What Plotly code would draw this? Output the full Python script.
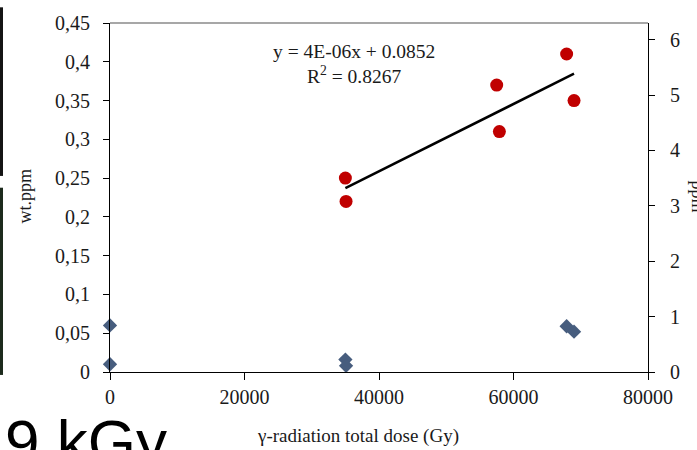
import numpy as np
import plotly.graph_objects as go

# Gamma dose (Gy) and concentrations (wt.ppm)
dose_red = [35000, 35100, 57500, 57900, 67900, 69000]
conc_red = [0.25, 0.22, 0.37, 0.31, 0.41, 0.35]

dose_blue = [0, 0, 35000, 35100, 67900, 69000]
conc_blue = [0.06, 0.01, 0.016, 0.008, 0.059, 0.052]

y_tick_vals = [0, 0.05, 0.1, 0.15, 0.2, 0.25, 0.3, 0.35, 0.4, 0.45]
y_tick_text = ["0", "0,05", "0,1", "0,15", "0,2", "0,25", "0,3", "0,35", "0,4", "0,45"]
x_tick_vals = [0, 20000, 40000, 60000, 80000]
y2_tick_vals = [0, 1, 2, 3, 4, 5, 6]

equation_text = "y = 4E-06x + 0.0852<br>R<sup>2</sup> = 0.8267"

# Linear trend through the red series
slope, intercept = np.polyfit(dose_red, conc_red, 1)
trend_x = np.array([min(dose_red), max(dose_red)])
trend_y = slope * trend_x + intercept

SERIF = "Liberation Serif"
TXT = "#1a1a1a"

# plot-area geometry in pixels, used to place free text
L, R, T, B = 110, 648, 16, 372
W, H = R - L, B - T


def px(x):
    return (x - L) / W


def py(y):
    return (B - y) / H


fig = go.Figure()
fig.add_trace(go.Scatter(
    x=dose_blue, y=conc_blue, mode="markers",
    marker=dict(symbol="diamond", size=11, color="#475d7e"),
    showlegend=False, cliponaxis=False,
))
fig.add_trace(go.Scatter(
    x=dose_red, y=conc_red, mode="markers",
    marker=dict(symbol="circle", size=13, color="#c00000"),
    showlegend=False,
))
fig.add_trace(go.Scatter(
    x=trend_x, y=trend_y, mode="lines",
    line=dict(color="black", width=2.5),
    showlegend=False,
))
# Invisible trace that keeps the secondary (ppm) axis active
fig.add_trace(go.Scatter(
    x=[None], y=[None], yaxis="y2", mode="markers", showlegend=False,
    hoverinfo="skip",
))

axis_font = dict(family=SERIF, size=20, color=TXT)

fig.update_layout(
    width=697, height=450,
    margin=dict(l=L, r=697 - R, t=T, b=450 - B),
    paper_bgcolor="white", plot_bgcolor="white",
    xaxis=dict(
        range=[0, 80000], tickvals=x_tick_vals,
        ticktext=[str(v) for v in x_tick_vals],
        showgrid=False, zeroline=False,
        showline=True, linecolor="black", linewidth=1.2,
        ticks="outside", ticklen=7, tickcolor="black",
        tickfont=axis_font, ticklabelstandoff=0,
    ),
    yaxis=dict(
        range=[0, 0.45], tickvals=y_tick_vals, ticktext=y_tick_text,
        showgrid=False, zeroline=False,
        showline=True, linecolor="black", linewidth=1.2,
        ticks="outside", ticklen=6, tickcolor="black",
        tickfont=axis_font, ticklabelstandoff=9,
    ),
    yaxis2=dict(
        overlaying="y", side="right", range=[0, 6.3], tickvals=y2_tick_vals,
        showgrid=False, zeroline=False,
        showline=True, linecolor="black", linewidth=1.2,
        ticks="outside", ticklen=6, tickcolor="black",
        tickfont=axis_font, ticklabelstandoff=11,
    ),
    shapes=[
        # top frame line
        dict(type="line", xref="paper", yref="paper", x0=0, x1=1, y0=1, y1=1,
             line=dict(color="#8a8a8a", width=1.5)),
        # dark strips at the far left edge
        dict(type="rect", xref="paper", yref="paper",
             x0=px(0), x1=px(3), y0=py(172), y1=py(0),
             line=dict(width=0), fillcolor="#141414"),
        dict(type="rect", xref="paper", yref="paper",
             x0=px(0), x1=px(3), y0=py(375), y1=py(184),
             line=dict(width=0), fillcolor="#1c2a1c"),
    ],
    annotations=[
        dict(text=equation_text, xref="paper", yref="paper",
             x=px(354), y=py(58),
             xanchor="center", yanchor="middle", showarrow=False, align="center",
             font=dict(family=SERIF, size=19.5, color=TXT)),
        dict(text="wt.ppm", xref="paper", yref="paper",
             x=px(25), y=py(193),
             xanchor="center", yanchor="middle", textangle=-90, showarrow=False,
             font=dict(family=SERIF, size=18, color=TXT)),
        dict(text="ppm", xref="paper", yref="paper",
             x=px(698), y=py(193),
             xanchor="center", yanchor="middle", textangle=90, showarrow=False,
             font=dict(family=SERIF, size=18, color=TXT)),
        dict(text="γ-radiation total dose (Gy)", xref="paper", yref="paper",
             x=px(358), y=py(437),
             xanchor="center", yanchor="middle", showarrow=False,
             font=dict(family=SERIF, size=19, color=TXT)),
        dict(text="9 kGy", xref="paper", yref="paper",
             x=px(3), y=py(443),
             xanchor="left", yanchor="middle", showarrow=False,
             font=dict(family="Liberation Sans", size=62, color="black")),
    ],
)

fig.write_html("out.html")
